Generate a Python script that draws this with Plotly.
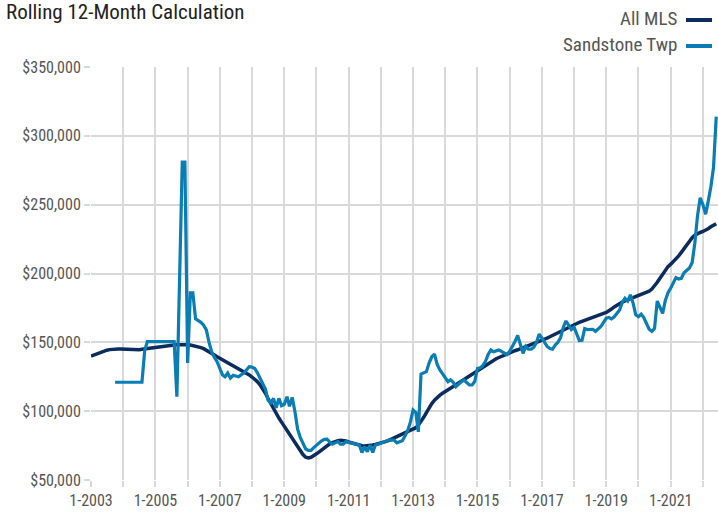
import pandas as pd
import plotly.graph_objects as go

# Monthly rolling 12-month values (thousands of $), Jan 2003 .. Jun 2022
all_mls_k = [
    140, 140.8, 141.6, 142.4, 143.2, 143.8, 144.3, 144.7, 145, 145.1, 145.2, 145.2,
    145.1, 144.9, 144.7, 144.5, 144.4, 144.5, 144.7, 145, 145.3, 145.6, 145.9, 146.1,
    146.3, 146.6, 146.9, 147.1, 147.4, 147.6, 147.8, 148, 148.2, 148.3, 148.4, 148.3,
    148.2, 148, 147.7, 147.3, 146.8, 146.2, 145.4, 144.4, 143.2, 142, 140.8, 139.6,
    138.5, 137.4, 136.3, 135.3, 134.3, 133.3, 132.3, 131.2, 130.1, 129, 127.7, 126.3,
    124.8, 123.3, 121.5, 119.2, 116.3, 113, 109.2, 105.3, 101.5, 98, 95, 92,
    89, 86, 83, 80, 77, 74, 71, 68.5, 66.5, 66, 66.5, 67.5,
    69, 70.5, 72, 73.5, 75, 76.3, 77.2, 78, 78.5, 78.8, 78.7, 78.3,
    77.6, 77, 76.4, 75.8, 75.3, 74.9, 74.7, 74.8, 75, 75.4, 75.8, 76.2,
    76.6, 77.2, 78, 78.8, 79.7, 80.7, 81.7, 82.7, 83.6, 84.5, 85.3, 86,
    86.8, 88, 89.8, 92.3, 95.5, 99, 102.5, 105.5, 108, 110, 111.6, 113,
    114.1, 115.3, 116.6, 117.9, 119.2, 120.5, 121.8, 123.1, 124.4, 125.8, 127.1, 128.4,
    129.6, 130.8, 132.1, 133.4, 134.8, 136, 137.1, 138.1, 139, 139.9, 140.8, 141.7,
    142.5, 143.2, 143.9, 144.6, 145.3, 146.1, 146.9, 147.7, 148.5, 149.3, 150, 150.7,
    151.4, 152.2, 153.1, 154.1, 155.1, 156.1, 157, 157.9, 158.8, 159.8, 160.8, 161.8,
    162.8, 163.7, 164.5, 165.3, 166.1, 166.9, 167.6, 168.3, 169, 169.8, 170.5, 171.1,
    171.7, 172.8, 174.2, 175.7, 177.1, 178.2, 179.2, 180.1, 180.9, 181.7, 182.5, 183.5,
    184.5, 185.3, 185.9, 186.4, 187.2, 188.7, 190.9, 193.6, 196.6, 199.7, 202.6, 205,
    206.8, 208.6, 210.6, 212.8, 215.3, 218.1, 221, 223.7, 226, 227.8, 229, 229.8,
    230.5, 231.3, 232.5, 233.9, 235.2, 236.2,
]

sandstone_k = [
    None, None, None, None, None, None, None, None, None, 121, 121, 121,
    121, 121, 121, 121, 121, 121, 121, 121, 144, 150.5, 150.5, 150.5,
    150.5, 150.5, 150.5, 150.5, 150.5, 150.5, 150.5, 150.5, 110.5, 195, 281, 281,
    135, 186, 186, 167, 166, 164.5, 162.5, 159, 150, 143, 139, 136,
    131, 126.3, 125, 127.7, 124, 126, 125.5, 125, 126.5, 127.5, 130, 132.3,
    132, 131, 128, 123.5, 120, 116, 108, 106, 109.3, 102.5, 109.3, 104,
    105, 110.5, 103.5, 110, 100, 87, 81, 77, 72.5, 71.5, 71.5, 73.5,
    75.5, 77, 78.5, 79.5, 79.6, 77.5, 76, 77, 77.9, 76, 76, 77.9,
    77.5, 76.7, 76.5, 76, 75.4, 70, 74.2, 70.6, 75.4, 70, 75.4, 76,
    76.7, 77.5, 78.5, 79, 79, 79, 77, 77.5, 78.5, 82, 86, 92,
    100.8, 99, 85, 127, 128, 128.7, 135, 139.5, 141.5, 134, 130, 127,
    124.5, 121.4, 122.8, 121, 117.8, 120, 121.4, 122.6, 120.5, 119, 119, 121.5,
    131, 131.5, 133, 136, 141, 144.4, 143.2, 144, 144.4, 143.5, 142, 141,
    143.5, 147, 150.5, 155, 148, 142, 147, 145, 145, 146.5, 150, 156,
    153, 149.5, 147, 145.5, 145, 148, 150, 153.5, 161, 165.5, 162.3, 159.3,
    161, 156, 151.3, 151.5, 160, 159.3, 159.6, 159.5, 158, 160, 161.5, 164.5,
    167.5, 168, 167, 168.5, 171, 173.5, 179, 182, 180, 184.5, 178.5, 170,
    168.6, 170.5, 168, 163, 159.5, 158, 160, 180, 176, 171, 180.5, 186,
    189.5, 194, 197, 196, 196.5, 200.5, 202.5, 204, 208, 222, 242, 255,
    250, 243, 252, 263, 277, 314,
]

series_names = ["All MLS", "Sandstone Twp"]
series_colors = ["#0b2c5c", "#0a7db4"]

tick_years = list(range(2003, 2023))
tick_labels = [f"1-{y}" if (y - 2003) % 2 == 0 else "" for y in tick_years]

months = pd.date_range("2003-01-01", periods=len(all_mls_k), freq="MS")
all_mls = [v * 1000 for v in all_mls_k]
sandstone = [None if v is None else v * 1000 for v in sandstone_k]

FONT = "Liberation Sans Narrow, Arial Narrow, Roboto Condensed, Roboto, sans-serif"

fig = go.Figure()
fig.add_trace(go.Scatter(x=months, y=all_mls, mode="lines", name=series_names[0],
                         line=dict(color=series_colors[0], width=3.5)))
fig.add_trace(go.Scatter(x=months, y=sandstone, mode="lines", name=series_names[1],
                         line=dict(color=series_colors[1], width=3.2), connectgaps=False))

fig.update_layout(
    width=718, height=515,
    margin=dict(l=91, r=0, t=67, b=35),
    paper_bgcolor="white", plot_bgcolor="white",
    showlegend=False,
    font=dict(family=FONT, color="#555555", size=15),
    xaxis=dict(
        type="date",
        range=["2003-01-01", "2022-06-21"],
        tickvals=[f"{y}-01-01" for y in tick_years],
        ticktext=tick_labels,
        showgrid=True, gridcolor="#d9d9d9", gridwidth=2,
        ticks="outside", ticklen=6, tickcolor="#d9d9d9", tickwidth=2,
        showline=False, zeroline=False,
        tickfont=dict(family=FONT, size=16, color="#555555"),
    ),
    yaxis=dict(
        range=[50000, 350000],
        tickvals=[50000, 100000, 150000, 200000, 250000, 300000, 350000],
        tickformat="$,.0f",
        showgrid=True, gridcolor="#d9d9d9", gridwidth=2,
        ticks="outside", ticklen=6, tickcolor="#d9d9d9", tickwidth=2,
        showline=False, zeroline=False,
        tickfont=dict(family=FONT, size=16, color="#555555"),
    ),
)

fig.add_annotation(text="Rolling 12-Month Calculation", xref="paper", yref="paper",
                   x=-91 / 627, y=1 + 67 / 413, xanchor="left", yanchor="top",
                   xshift=4, yshift=2, showarrow=False,
                   font=dict(family=FONT, size=21, color="#222222"))

# Legend (text with swatch on the right)
for i, (name, col) in enumerate(zip(series_names, series_colors)):
    ypix = 18 + i * 26  # pixel from top
    yp = 1 + (67 - ypix) / 413
    fig.add_annotation(text=name, xref="paper", yref="paper", x=(679 - 91) / 627, y=yp,
                       xanchor="right", yanchor="middle", showarrow=False,
                       font=dict(family=FONT, size=19, color="#555555"))
    fig.add_shape(type="line", xref="paper", yref="paper",
                  x0=(686 - 91) / 627, x1=(712 - 91) / 627, y0=yp - 2 / 413, y1=yp - 2 / 413,
                  line=dict(color=col, width=4))

fig.write_html("out.html",
               config={"displayModeBar": False},
               post_script="document.body.style.margin='0';document.body.style.overflow='hidden';")
